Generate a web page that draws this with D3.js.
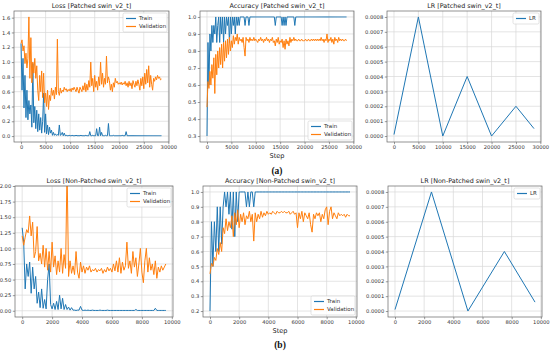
<!DOCTYPE html>
<html>
<head>
<meta charset="utf-8">
<script src="https://cdn.jsdelivr.net/npm/d3@7"></script>
<style>
  body { margin: 0; background: #fff; }
  svg text { font-family: "DejaVu Sans", sans-serif; }
  .tick text { font-size: 5.2px; fill: #333; }
  .tick line { stroke: #555; stroke-width: 0.6; }
  .domain { display: none; }
  .grid line { stroke: #d9d9d9; stroke-width: 0.7; }
  .frame { fill: none; stroke: #666; stroke-width: 0.7; }
  .title { font-size: 6.4px; fill: #222; text-anchor: middle; }
  .xlab { font-size: 6.6px; fill: #222; text-anchor: middle; }
  .leg text { font-size: 5.5px; fill: #333; }
  .sub { font-family: "Liberation Serif", serif !important; font-weight: bold; font-size: 9.5px; text-anchor: middle; fill: #111; }
</style>
</head>
<body>
<svg id="chart" width="550" height="352"></svg>
<script>
// ---- data: patched run, one record every 200 steps
var patchedStep = 200;
var patchedTrainLoss = [1.25,0.62,1.05,0.38,0.82,0.25,0.62,0.22,0.48,0.30,
  0.42,0.12,0.98,0.18,0.40,0.10,0.35,0.06,0.30,0.08,
  0.25,0.04,0.20,0.58,0.05,0.30,0.03,0.15,0.02,0.12,
  0.04,0.08,0.01,0.05,0.01,0.03,0.01,0.02,0.01,0.15,
  0.01,0.02,0.05,0.005,0.04,0.005,0.01,0.005,0.005,0.01,
  0.005,0.005,0.01,0.005,0.005,0.005,0.01,0.005,0.005,0.005,
  0.005,0.01,0.005,0.005,0.005,0.005,0.01,0.005,0.005,0.005,
  0.06,0.005,0.005,0.01,0.005,0.005,0.005,0.10,0.005,0.005,
  0.12,0.005,0.05,0.005,0.005,0.005,0.01,0.005,0.005,0.17,
  0.005,0.005,0.005,0.005,0.01,0.005,0.005,0.005,0.005,0.005,
  0.005,0.005,0.005,0.01,0.005,0.005,0.005,0.06,0.005,0.005,
  0.005,0.005,0.005,0.005,0.005,0.005,0.005,0.005,0.005,0.005,
  0.005,0.005,0.005,0.005,0.005,0.005,0.005,0.005,0.005,0.005,
  0.005,0.005,0.005,0.005,0.005,0.005,0.005,0.005,0.005,0.005,
  0.005,0.005,0.005,0.005];
var patchedValLoss = [1.25,1.30,1.15,1.22,0.98,1.12,0.92,1.05,1.61,0.78,
  1.33,0.72,1.00,0.85,1.05,0.78,0.95,0.62,0.48,0.82,
  0.60,0.88,0.52,0.85,0.45,0.58,0.40,0.62,0.36,0.55,
  0.48,0.65,0.55,0.62,0.50,0.66,0.56,1.31,0.60,0.55,
  0.65,0.58,0.62,0.60,0.66,0.62,0.64,0.60,0.63,0.61,
  0.64,0.60,0.65,0.62,0.66,0.63,0.60,0.66,0.62,0.58,
  0.66,0.63,0.60,0.68,0.62,0.72,0.60,0.70,0.62,0.75,
  0.66,1.00,0.68,0.78,0.60,0.82,0.66,0.74,0.62,0.80,
  0.68,1.00,0.70,0.85,0.66,0.78,0.70,1.08,0.72,0.80,
  0.75,0.62,0.70,0.60,0.72,0.66,0.78,0.72,0.74,0.70,
  0.72,0.70,0.73,0.69,0.72,0.70,0.74,0.68,0.72,0.66,
  0.74,0.68,0.72,0.64,0.75,0.70,0.66,0.74,0.68,0.76,
  0.70,0.62,0.78,0.68,0.80,0.64,0.85,0.70,0.90,0.72,
  0.95,0.66,0.82,0.70,0.62,0.78,0.74,0.80,0.76,0.82,
  0.78,0.80,0.76,0.77];
var patchedTrainAcc = [0.30,0.85,0.60,0.90,0.80,0.95,0.85,0.95,0.90,1.00,
  0.85,0.95,1.00,0.85,1.00,0.90,1.00,0.85,1.00,0.90,
  1.00,0.95,1.00,0.85,1.00,0.90,1.00,0.95,1.00,0.90,
  1.00,0.95,1.00,0.95,1.00,1.00,1.00,1.00,1.00,0.95,
  1.00,1.00,1.00,0.95,1.00,1.00,1.00,1.00,1.00,1.00,
  1.00,1.00,1.00,1.00,1.00,1.00,1.00,1.00,1.00,1.00,
  1.00,1.00,1.00,1.00,1.00,1.00,1.00,1.00,1.00,1.00,
  0.95,1.00,1.00,1.00,1.00,1.00,1.00,0.95,1.00,0.95,
  1.00,0.95,1.00,1.00,1.00,1.00,1.00,1.00,1.00,1.00,
  0.95,1.00,1.00,1.00,1.00,1.00,1.00,1.00,1.00,1.00,
  1.00,1.00,1.00,1.00,1.00,1.00,1.00,1.00,1.00,1.00,
  1.00,1.00,1.00,1.00,1.00,1.00,1.00,1.00,1.00,1.00,
  1.00,1.00,1.00,1.00,1.00,1.00,1.00,1.00,1.00,1.00,
  1.00,1.00,1.00,1.00,1.00,1.00,1.00,1.00,1.00,1.00,
  1.00,1.00,1.00,1.00];
var patchedValAcc = [0.47,0.62,0.58,0.68,0.60,0.72,0.64,0.76,0.55,0.78,
  0.66,0.80,0.70,0.82,0.72,0.84,0.70,0.85,0.74,0.86,
  0.76,0.87,0.78,0.88,0.80,0.86,0.82,0.89,0.84,0.88,
  0.86,0.90,0.84,0.88,0.86,0.87,0.85,0.88,0.82,0.77,
  0.88,0.86,0.87,0.85,0.88,0.86,0.87,0.86,0.88,0.86,
  0.87,0.86,0.85,0.87,0.86,0.88,0.86,0.87,0.85,0.87,
  0.86,0.88,0.86,0.87,0.85,0.87,0.86,0.88,0.85,0.86,
  0.83,0.87,0.85,0.88,0.84,0.86,0.85,0.87,0.82,0.86,
  0.81,0.87,0.84,0.86,0.83,0.88,0.85,0.87,0.86,0.88,
  0.86,0.87,0.86,0.86,0.87,0.86,0.86,0.87,0.86,0.86,
  0.86,0.87,0.86,0.86,0.87,0.86,0.86,0.87,0.86,0.87,
  0.86,0.87,0.86,0.87,0.86,0.87,0.86,0.88,0.86,0.87,
  0.85,0.87,0.86,0.90,0.85,0.87,0.86,0.88,0.85,0.87,
  0.84,0.88,0.86,0.87,0.85,0.88,0.86,0.87,0.86,0.87,
  0.86,0.86,0.87,0.86];
var patchedLrSteps = [0, 5000, 10000, 15000, 20000, 25000, 28700];
var patchedLr = [0.00001, 0.0008, 0.0, 0.0004, 0.0, 0.0002, 0.00005];

// ---- data: non-patched run, one record every 100 steps
var plainStep = 100;
var plainTrainLoss = [1.33,1.10,0.35,0.75,0.55,0.78,0.28,0.70,0.35,0.55,
  0.12,0.30,0.05,0.35,0.04,0.18,0.03,0.50,0.75,0.10,
  0.03,0.12,0.02,0.15,0.02,0.25,0.03,0.20,0.02,0.10,
  0.02,0.06,0.01,0.05,0.01,0.01,0.005,0.01,0.01,0.07,
  0.01,0.005,0.01,0.005,0.01,0.005,0.005,0.01,0.005,0.005,
  0.005,0.005,0.01,0.005,0.005,0.005,0.005,0.01,0.005,0.005,
  0.005,0.005,0.005,0.005,0.005,0.005,0.005,0.005,0.005,0.005,
  0.005,0.005,0.005,0.005,0.005,0.005,0.02,0.005,0.005,0.005,
  0.005,0.005,0.005,0.005,0.005,0.005,0.005,0.005,0.005,0.04,
  0.005,0.005,0.005,0.005,0.005,0.005,0.005];
var plainValLoss = [1.20,1.05,1.18,1.30,1.25,1.52,1.20,1.42,0.85,0.95,
  1.35,0.80,0.92,0.75,1.05,0.70,1.00,0.65,0.95,0.62,
  1.10,0.70,0.88,0.58,0.80,0.62,1.00,0.60,0.90,0.68,
  2.30,0.55,0.80,0.60,0.72,0.58,0.95,0.62,0.52,0.78,
  0.62,0.72,0.60,0.70,0.65,0.72,0.62,0.66,0.64,0.68,
  0.62,0.66,0.64,0.68,0.60,0.66,0.62,0.70,0.64,0.68,
  0.62,0.75,0.64,0.80,0.62,0.85,0.60,0.78,0.65,0.72,
  1.10,0.68,0.80,0.60,0.95,0.70,0.85,0.55,0.75,1.00,
  0.62,0.45,0.80,1.00,0.62,0.85,0.65,0.75,0.58,0.80,
  0.52,0.70,0.62,0.72,0.65,0.70,0.75];
var plainTrainAcc = [0.20,0.80,0.50,0.80,0.60,0.90,0.60,0.90,0.65,0.90,
  1.00,0.90,1.00,0.85,1.00,0.75,1.00,0.70,1.00,0.80,
  1.00,1.00,1.00,1.00,1.00,0.90,1.00,0.90,1.00,1.00,
  0.90,1.00,1.00,1.00,1.00,1.00,1.00,1.00,1.00,1.00,
  1.00,1.00,1.00,1.00,1.00,1.00,1.00,1.00,1.00,1.00,
  1.00,1.00,1.00,1.00,1.00,1.00,1.00,1.00,1.00,1.00,
  1.00,1.00,1.00,1.00,1.00,1.00,1.00,1.00,1.00,1.00,
  1.00,1.00,1.00,1.00,1.00,1.00,1.00,1.00,1.00,1.00,
  1.00,1.00,1.00,1.00,1.00,1.00,1.00,1.00,1.00,1.00,
  1.00,1.00,1.00,1.00,1.00,1.00,1.00];
var plainValAcc = [0.45,0.52,0.50,0.56,0.54,0.62,0.58,0.66,0.60,0.76,
  0.72,0.82,0.74,0.80,0.76,0.84,0.70,0.86,0.78,0.88,
  0.76,0.85,0.80,0.86,0.78,0.84,0.82,0.87,0.80,0.85,
  0.67,0.86,0.80,0.85,0.82,0.87,0.83,0.86,0.84,0.87,
  0.85,0.86,0.85,0.87,0.86,0.85,0.87,0.86,0.86,0.87,
  0.86,0.87,0.86,0.86,0.87,0.85,0.86,0.87,0.85,0.86,
  0.76,0.86,0.82,0.87,0.80,0.86,0.84,0.82,0.86,0.78,
  0.73,0.85,0.82,0.86,0.84,0.86,0.80,0.85,0.82,0.88,
  0.90,0.78,0.87,0.90,0.82,0.86,0.84,0.82,0.86,0.84,
  0.85,0.84,0.85,0.83,0.85,0.84,0.84];
var plainLrSteps = [0, 2500, 5000, 7500, 9600];
var plainLr = [0.00001, 0.0008, 0.0, 0.0004, 0.00006];

var longTicks = [0, 5000, 10000, 15000, 20000, 25000, 30000];
var shortTicks = [0, 2000, 4000, 6000, 8000, 10000];

var blue = "#1f77b4", orange = "#ff7f0e";

function withSteps(vals, step) {
  return vals.map(function(v, i) { return [i * step, v]; });
}
function zipSteps(steps, vals) {
  return vals.map(function(v, i) { return [steps[i], v]; });
}

var svg = d3.select("#chart");
var clipId = 0;

function panel(o) {
  var w = o.box[2] - o.box[0], h = o.box[3] - o.box[1];
  var g = svg.append("g").attr("transform", "translate(" + o.box[0] + "," + o.box[1] + ")");
  var x = d3.scaleLinear().domain(o.xd).range([0, w]);
  var y = d3.scaleLinear().domain(o.yd).range([h, 0]);

  // grid
  var grid = g.append("g").attr("class", "grid");
  grid.selectAll(".gx").data(o.xt).join("line")
    .attr("x1", d => x(d)).attr("x2", d => x(d)).attr("y1", 0).attr("y2", h);
  grid.selectAll(".gy").data(o.yt).join("line")
    .attr("y1", d => y(d)).attr("y2", d => y(d)).attr("x1", 0).attr("x2", w);

  // axes
  g.append("g").attr("transform", "translate(0," + h + ")")
    .call(d3.axisBottom(x).tickValues(o.xt).tickSize(2.2).tickPadding(1.6).tickFormat(d3.format("d")));
  g.append("g")
    .call(d3.axisLeft(y).tickValues(o.yt).tickSize(2.2).tickPadding(1.6).tickFormat(d3.format(o.yf)));

  // lines
  clipId++;
  g.append("clipPath").attr("id", "c" + clipId)
    .append("rect").attr("width", w).attr("height", h);
  var line = d3.line().x(d => x(d[0])).y(d => y(d[1]));
  var lines = g.append("g").attr("clip-path", "url(#c" + clipId + ")");
  o.series.forEach(function(s) {
    lines.append("path").datum(s.data)
      .attr("fill", "none").attr("stroke", s.color)
      .attr("stroke-width", 1.0).attr("stroke-linejoin", "round")
      .attr("d", line);
  });

  g.append("rect").attr("class", "frame").attr("width", w).attr("height", h);

  g.append("text").attr("class", "title").attr("x", w / 2).attr("y", -3).text(o.title);
  if (o.xlabel) {
    g.append("text").attr("class", "xlab").attr("x", w / 2).attr("y", h + 16).text(o.xlabel);
  }

  // legend
  var n = o.series.length;
  var lw = o.legW, lh = 3 + n * 8;
  var lx = w - lw - 2;
  var ly = o.legPos == "top" ? 2 : h - lh - 2;
  var leg = g.append("g").attr("class", "leg").attr("transform", "translate(" + lx + "," + ly + ")");
  leg.append("rect").attr("width", lw).attr("height", lh).attr("rx", 1.5)
    .attr("fill", "#fff").attr("fill-opacity", 0.85).attr("stroke", "#d0d0d0").attr("stroke-width", 0.6);
  o.series.forEach(function(s, i) {
    var yy = 5.5 + i * 8;
    leg.append("line").attr("x1", 3).attr("x2", 13).attr("y1", yy).attr("y2", yy)
      .attr("stroke", s.color).attr("stroke-width", 1.2);
    leg.append("text").attr("x", 16).attr("y", yy + 1.9).text(s.name);
  });
}

var rowA = [11, 142], rowB = [186, 317];

panel({ box: [14, rowA[0], 169, rowA[1]], xd: [-1435, 30135], yd: [-0.08, 1.69],
  xt: longTicks, yt: [0, 0.2, 0.4, 0.6, 0.8, 1.0, 1.2, 1.4, 1.6], yf: ".1f",
  title: "Loss [Patched swin_v2_t]", legPos: "top", legW: 44,
  series: [
    { name: "Train", color: blue, data: withSteps(patchedTrainLoss, patchedStep) },
    { name: "Validation", color: orange, data: withSteps(patchedValLoss, patchedStep) }
  ] });

panel({ box: [200, rowA[0], 354, rowA[1]], xd: [-1435, 30135], yd: [0.265, 1.035],
  xt: longTicks, yt: [0.3, 0.4, 0.5, 0.6, 0.7, 0.8, 0.9, 1.0], yf: ".1f",
  title: "Accuracy [Patched swin_v2_t]", legPos: "bottom", legW: 44, xlabel: "Step",
  series: [
    { name: "Train", color: blue, data: withSteps(patchedTrainAcc, patchedStep) },
    { name: "Validation", color: orange, data: withSteps(patchedValAcc, patchedStep) }
  ] });

panel({ box: [387, rowA[0], 541, rowA[1]], xd: [-1435, 30135], yd: [-0.00004, 0.00084],
  xt: longTicks, yt: [0, 0.0001, 0.0002, 0.0003, 0.0004, 0.0005, 0.0006, 0.0007, 0.0008], yf: ".4f",
  title: "LR [Patched swin_v2_t]", legPos: "top", legW: 26,
  series: [ { name: "LR", color: blue, data: zipSteps(patchedLrSteps, patchedLr) } ] });

panel({ box: [15, rowB[0], 173, rowB[1]], xd: [-480, 10080], yd: [-0.1, 2.0],
  xt: shortTicks, yt: [0, 0.25, 0.5, 0.75, 1.0, 1.25, 1.5, 1.75, 2.0], yf: ".2f",
  title: "Loss [Non-Patched swin_v2_t]", legPos: "top", legW: 44,
  series: [
    { name: "Train", color: blue, data: withSteps(plainTrainLoss, plainStep) },
    { name: "Validation", color: orange, data: withSteps(plainValLoss, plainStep) }
  ] });

panel({ box: [203, rowB[0], 357, rowB[1]], xd: [-480, 10080], yd: [0.16, 1.04],
  xt: shortTicks, yt: [0.2, 0.3, 0.4, 0.5, 0.6, 0.7, 0.8, 0.9, 1.0], yf: ".1f",
  title: "Accuracy [Non-Patched swin_v2_t]", legPos: "bottom", legW: 44, xlabel: "Step",
  series: [
    { name: "Train", color: blue, data: withSteps(plainTrainAcc, plainStep) },
    { name: "Validation", color: orange, data: withSteps(plainValAcc, plainStep) }
  ] });

panel({ box: [388, rowB[0], 542, rowB[1]], xd: [-480, 10080], yd: [-0.00004, 0.00084],
  xt: shortTicks, yt: [0, 0.0001, 0.0002, 0.0003, 0.0004, 0.0005, 0.0006, 0.0007, 0.0008], yf: ".4f",
  title: "LR [Non-Patched swin_v2_t]", legPos: "top", legW: 26,
  series: [ { name: "LR", color: blue, data: zipSteps(plainLrSteps, plainLr) } ] });

svg.append("text").attr("class", "sub").attr("x", 277).attr("y", 174).text("(a)");
svg.append("text").attr("class", "sub").attr("x", 280).attr("y", 348).text("(b)");
</script>
</body>
</html>
